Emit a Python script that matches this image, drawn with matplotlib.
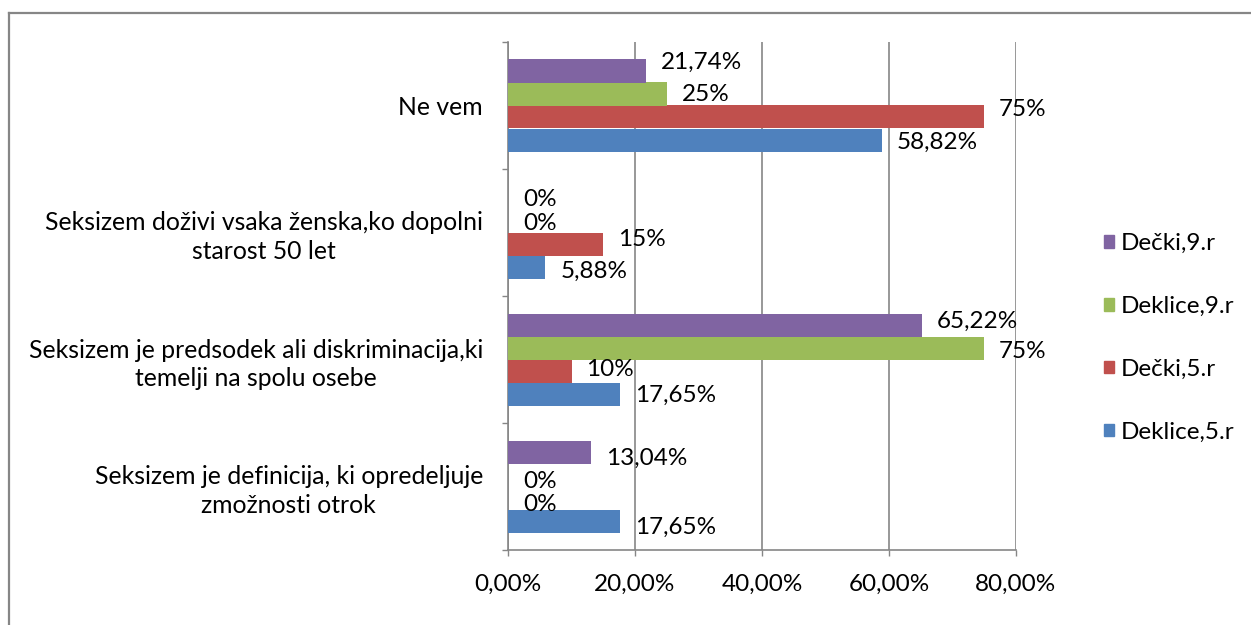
import matplotlib
matplotlib.use("Agg")
import matplotlib.pyplot as plt
from matplotlib.patches import Patch
from matplotlib.lines import Line2D
import numpy as np

# ---- data ----
categories = [
    "Seksizem je definicija, ki opredeljuje\nzmožnosti otrok",
    "Seksizem je predsodek ali diskriminacija,ki\ntemelji na spolu osebe",
    "Seksizem doživi vsaka ženska,ko dopolni\nstarost 50 let",
    "Ne vem",
]
series_names = ["Deklice,5.r", "Dečki,5.r", "Deklice,9.r", "Dečki,9.r"]
deklice_5 = [17.65, 17.65, 5.88, 58.82]
decki_5 = [0, 10, 15, 75]
deklice_9 = [0, 75, 0, 25]
decki_9 = [13.04, 65.22, 0, 21.74]
x_ticks = [0, 20, 40, 60, 80]
x_tick_labels = ["0,00%", "20,00%", "40,00%", "60,00%", "80,00%"]

series_values = [deklice_5, decki_5, deklice_9, decki_9]
colors = ["#4F81BD", "#C0504D", "#9BBB59", "#8064A2"]

# label vertical nudges in pixels (positive = up), per series per category
label_dy = [
    [-6.5, -1.5, -4.5, -2.5],
    [-6.5, 1.5, 4.5, 7.5],
    [-6.5, -3.5, -2.5, -0.5],
    [-6.5, 3.5, -1.5, 8.5],
]

FONT = "Lato"
FS = 17.8

W, H = 1251, 625
fig = plt.figure(figsize=(W / 100, H / 100), dpi=100)
ax_l, ax_r, ax_t, ax_b = 508, 1016, 42, 550
ax = fig.add_axes([ax_l / W, 1 - ax_b / H, (ax_r - ax_l) / W, (ax_b - ax_t) / H])

n = len(series_values)
bar_h = 23 / 127
y = np.arange(len(categories))
gray = "#868686"

for i, (vals, col) in enumerate(zip(series_values, colors)):
    pos = y + (i - (n - 1) / 2) * bar_h
    ax.barh(pos, vals, height=bar_h, color=col, linewidth=0, zorder=3)
    for j, (p, v) in enumerate(zip(pos, vals)):
        if float(v).is_integer():
            txt = f"{int(v)}%"
        else:
            txt = f"{v:.2f}".replace(".", ",") + "%"
        ax.annotate(txt, xy=(v, p), xytext=(15, label_dy[i][j]), textcoords="offset pixels",
                    ha="left", va="center", fontsize=17.5, family=FONT, color="black", zorder=5)

ax.set_xlim(0, 80)
ax.set_ylim(-0.5, len(categories) - 0.5)
ax.set_xticks(x_ticks)
ax.set_xticklabels(x_tick_labels, family=FONT, fontsize=17.5)
ax.set_yticks(y)
ax.set_yticklabels(categories, family=FONT, fontsize=FS, ha="right", multialignment="center",
                   linespacing=1.3)
for t in ax.get_yticklabels():
    t.set_y(t.get_position()[1])
ax.set_yticks(np.arange(-0.5, len(categories)), minor=True)
ax.tick_params(axis="y", which="major", length=0, pad=18)
ax.tick_params(axis="y", which="minor", length=4, width=1, color=gray, direction="out")
ax.tick_params(axis="x", which="major", length=4, width=1, color=gray, direction="out", pad=13)

ax.grid(axis="x", color=gray, linewidth=1.2, zorder=0)
for s in ["top", "right"]:
    ax.spines[s].set_visible(False)
for s in ["left", "bottom"]:
    ax.spines[s].set_color(gray)
    ax.spines[s].set_linewidth(1.2)
ax.set_axisbelow(True)

# legend
handles = [Patch(facecolor=c, edgecolor=c) for c in colors][::-1]
labels = series_names[::-1]
fig.legend(handles, labels, loc="center left", bbox_to_anchor=(1092 / W, 1 - 338 / H),
           frameon=False, prop={"family": FONT, "size": 17.5}, handlelength=0.4, handleheight=0.4,
           handletextpad=0.3, labelspacing=1.72, borderpad=0)

# outer chart border (top & left visible)
fig.add_artist(Line2D([8.5 / W, 8.5 / W], [0, 1 - 12.5 / H], transform=fig.transFigure, color=gray, linewidth=1.6))
fig.add_artist(Line2D([8.5 / W, 1], [1 - 12.5 / H, 1 - 12.5 / H], transform=fig.transFigure, color=gray, linewidth=1.6))

fig.savefig("out.png", dpi=100, facecolor="white")
